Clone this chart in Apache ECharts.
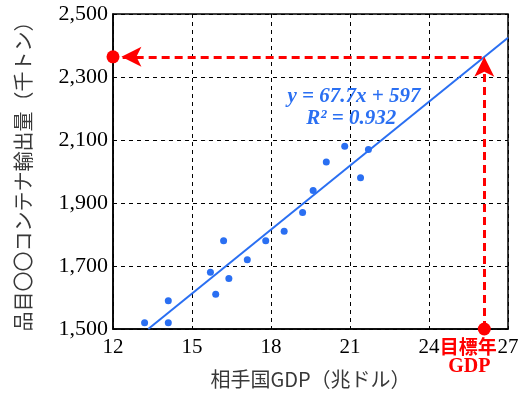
<!DOCTYPE html>
<html><head><meta charset="utf-8">
<script src="https://cdn.jsdelivr.net/npm/echarts@6/dist/echarts.min.js"></script>
<style>html,body{margin:0;padding:0;background:#fff}#c{width:525px;height:394px}</style>
</head><body><div id="c"></div>
<script>
// ---- data ----
const gdp       = [13.2, 14.1, 14.1, 15.7, 15.9, 16.2, 16.4, 17.1, 17.8, 18.5, 19.2, 19.6, 20.1, 20.8, 21.4, 21.7];
const exportsK  = [1520, 1590, 1520, 1680, 1610, 1780, 1660, 1720, 1780, 1810, 1870, 1940, 2030, 2080, 1980, 2070];
const slope = 67.7, intercept = 597, r2 = 0.932;
const targetGdp = 26.1;
const xTicks = [12, 15, 18, 21, 24, 27];
const yTicks = [1500, 1700, 1900, 2100, 2300, 2500];
const xName = '相手国GDP（兆ドル）';
const yName = '品目〇〇コンテナ輸出量（千トン）';
const eqText = 'y = 67.7x + 597';
const r2Text = 'R² = 0.932';
const targetText1 = '目標年', targetText2 = 'GDP';

// ---- derived ----
const xMin = xTicks[0], xMax = xTicks[xTicks.length - 1];
const yMin = yTicks[0], yMax = yTicks[yTicks.length - 1];
const proj = slope * targetGdp + intercept;
const points = gdp.map((x, i) => [x, exportsK[i]]);
const trend = [[(yMin - intercept) / slope, yMin], [xMax, slope * xMax + intercept]];
const arrowGap = 0.32; // leaves room for the dot at the left end

const BLUE = '#2a6ff2', RED = '#ff0000';
const serif = '"Liberation Serif", "DejaVu Serif", serif';
const cjk = '"Noto Sans CJK JP", "Noto Sans", sans-serif';

const chart = echarts.init(document.getElementById('c'), null, {renderer: 'canvas'});
chart.setOption({
  animation: false,
  backgroundColor: '#fff',
  grid: {left: 113, right: 17, top: 14, bottom: 62, show: true, borderColor: '#000', borderWidth: 1.5, backgroundColor: 'transparent'},
  xAxis: {
    type: 'value', min: xMin, max: xMax, interval: 3,
    name: xName, nameLocation: 'middle', nameGap: 40,
    nameTextStyle: {fontFamily: cjk, fontSize: 20, color: '#383838'},
    axisLine: {show: true, onZero: false, lineStyle: {color: '#000', width: 1.5}},
    axisTick: {show: false},
    axisLabel: {fontFamily: serif, fontSize: 21, color: '#000', margin: 8},
    splitLine: {show: true, lineStyle: {color: '#000', type: [4, 4], width: 1}}
  },
  yAxis: {
    type: 'value', min: yMin, max: yMax, interval: 200,
    name: yName, nameLocation: 'middle', nameRotate: 90, nameGap: 80,
    nameTextStyle: {fontFamily: cjk, fontSize: 20, color: '#383838'},
    axisLine: {show: true, onZero: false, lineStyle: {color: '#000', width: 1.5}},
    axisTick: {show: false},
    axisLabel: {fontFamily: serif, fontSize: 22, color: '#000', margin: 5,
      formatter: v => v.toLocaleString('en-US')},
    splitLine: {show: true, lineStyle: {color: '#000', type: [4, 4], width: 1}}
  },
  series: [
    {type: 'line', data: trend, showSymbol: false, symbol: 'none', lineStyle: {color: BLUE, width: 2}, z: 3, silent: true},
    {type: 'scatter', data: points, symbolSize: 7, itemStyle: {color: BLUE, opacity: 1}, z: 4, silent: true},
    {type: 'scatter', data: [[xMin, proj], [targetGdp, yMin]], symbolSize: 13, clip: false,
      itemStyle: {color: RED, opacity: 1}, z: 6, silent: true,
      markLine: {
        silent: true, symbol: ['none', 'arrow'], symbolSize: [15, 20],
        label: {show: false},
        lineStyle: {color: RED, type: [8, 5], width: 3, opacity: 1},
        data: [
          [{coord: [targetGdp, yMin]}, {coord: [targetGdp, proj]}],
          [{coord: [targetGdp - 0.1, proj]}, {coord: [xMin + arrowGap, proj]}]
        ]
      }
    }
  ]
});

const eqPos = chart.convertToPixel('grid', [21.15, 2238]);
const r2Pos = chart.convertToPixel('grid', [21.05, 2168]);
const tgt = chart.convertToPixel('grid', [targetGdp, yMin]);
chart.setOption({
  graphic: [
    {type: 'text', x: eqPos[0], y: eqPos[1], z: 10, style: {text: eqText, fill: BLUE, font: 'italic bold 21px ' + serif, align: 'center', verticalAlign: 'middle'}},
    {type: 'text', x: r2Pos[0], y: r2Pos[1], z: 10, style: {text: r2Text, fill: BLUE, font: 'italic bold 21px ' + serif, align: 'center', verticalAlign: 'middle'}},
    {type: 'text', x: tgt[0] - 16, y: tgt[1] + 18, z: 10, style: {text: targetText1, fill: RED, font: 'bold 19px ' + cjk, align: 'center', verticalAlign: 'middle'}},
    {type: 'text', x: tgt[0] - 15, y: tgt[1] + 38, z: 10, style: {text: targetText2, fill: RED, font: 'bold 20px ' + serif, align: 'center', verticalAlign: 'middle'}}
  ]
});
</script></body></html>
